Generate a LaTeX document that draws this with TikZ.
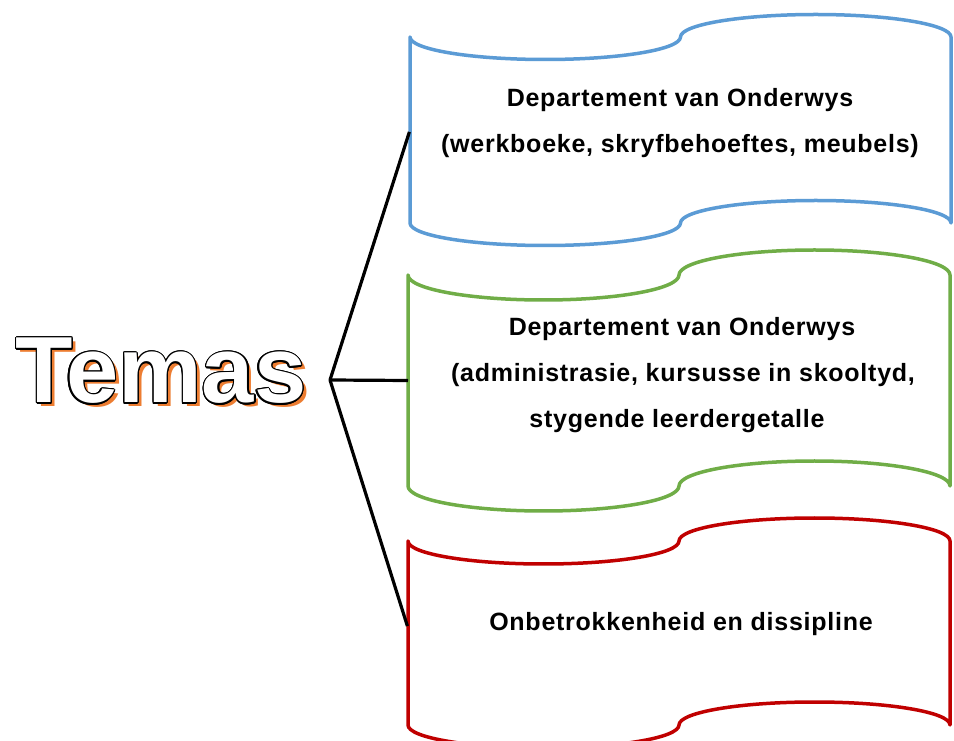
\documentclass[tikz,border=0pt]{standalone}
\usepackage{fontspec}
\setmainfont{Liberation Sans}
\newfontfamily\boxfont[LetterSpace=3]{Liberation Sans}
\definecolor{waveblue}{HTML}{5B9BD5}
\definecolor{wavegreen}{HTML}{70AD47}
\definecolor{wavered}{HTML}{C00000}
\definecolor{shadoworange}{HTML}{ED7D31}
\tikzset{
  boxarea/.style={rectangle, inner sep=0pt, outer sep=0pt},
  wavestroke/.style={line width=3.5pt, line join=round},
  linetext/.style={anchor=base, inner sep=0pt, font=\boxfont\bfseries\fontsize{25}{30}\selectfont},
  connector/.style={line width=3.2pt, draw=black},
  temasfont/.style={anchor=base, inner sep=0pt, font=\bfseries\fontsize{94}{110}\selectfont}
}
\newcommand\wavebox[7]{%
  \pgfmathsetmacro\wvq{#4/4}%
  \pgfmathsetmacro\wvk{0.5523*#4/4}%
  \pgfmathsetmacro\wvka{0.5523*#6}%
  \pgfmathsetmacro\wvxa{#2}%
  \pgfmathsetmacro\wvxb{#2+\wvq}%
  \pgfmathsetmacro\wvxc{#2+2*\wvq}%
  \pgfmathsetmacro\wvxd{#2+3*\wvq}%
  \pgfmathsetmacro\wvxe{#2+4*\wvq}%
  \pgfmathsetmacro\wvxbm{\wvxb-\wvk}%
  \pgfmathsetmacro\wvxbp{\wvxb+\wvk}%
  \pgfmathsetmacro\wvxdm{\wvxd-\wvk}%
  \pgfmathsetmacro\wvxdp{\wvxd+\wvk}%
  \pgfmathsetmacro\wvT{#3}%
  \pgfmathsetmacro\wvB{#3-#5}%
  \pgfmathsetmacro\wvTa{\wvT-#6}%
  \pgfmathsetmacro\wvTk{\wvT-\wvka}%
  \pgfmathsetmacro\wvTpa{\wvT+#6}%
  \pgfmathsetmacro\wvTpk{\wvT+\wvka}%
  \pgfmathsetmacro\wvBa{\wvB-#6}%
  \pgfmathsetmacro\wvBk{\wvB-\wvka}%
  \pgfmathsetmacro\wvBpa{\wvB+#6}%
  \pgfmathsetmacro\wvBpk{\wvB+\wvka}%
  \draw[wavestroke, draw=#7, fill=white]
    (\wvxa,\wvT) .. controls (\wvxa,\wvTk) and (\wvxbm,\wvTa) .. (\wvxb,\wvTa)
    .. controls (\wvxbp,\wvTa) and (\wvxc,\wvTk) .. (\wvxc,\wvT)
    .. controls (\wvxc,\wvTpk) and (\wvxdm,\wvTpa) .. (\wvxd,\wvTpa)
    .. controls (\wvxdp,\wvTpa) and (\wvxe,\wvTpk) .. (\wvxe,\wvT)
    -- (\wvxe,\wvB)
    .. controls (\wvxe,\wvBpk) and (\wvxdp,\wvBpa) .. (\wvxd,\wvBpa)
    .. controls (\wvxdm,\wvBpa) and (\wvxc,\wvBpk) .. (\wvxc,\wvB)
    .. controls (\wvxc,\wvBk) and (\wvxbp,\wvBa) .. (\wvxb,\wvBa)
    .. controls (\wvxbm,\wvBa) and (\wvxa,\wvBk) .. (\wvxa,\wvB)
    -- cycle;
  \node[boxarea, minimum width=#4pt, minimum height=#5pt, anchor=north west] (#1) at (#2,#3) {};
}
\begin{document}
\begin{tikzpicture}[x=1pt, y=1pt]
  \useasboundingbox (0,0) rectangle (954,740);
  \clip (0,0) rectangle (954,740);
  \fill[white] (0,0) rectangle (954,740);

  % wave boxes: name, left x, top-left y, width, left-edge height, amplitude, colour
  \wavebox{b1}{410}{703}{541}{186}{22.5}{waveblue}
  \wavebox{b2}{408}{465}{542}{211}{25}{wavegreen}
  \wavebox{b3}{408}{199}{542}{184}{23}{wavered}

  % texts
  \node[linetext] (b1l1) at (680,633) {Departement van Onderwys};
  \node[linetext] (b1l2) at (680,587) {(werkboeke, skryfbehoeftes, meubels)};
  \node[linetext] (b2l1) at (682,404) {Departement van Onderwys};
  \node[linetext] (b2l2) at (683,358) {(administrasie, kursusse in skooltyd,};
  \node[linetext] (b2l3) at (677,312) {stygende leerdergetalle};
  \node[linetext] (b3l1) at (681,110) {Onbetrokkenheid en dissipline};

  % Temas title: orange shadow, black outline, white fill
  \node[temasfont, text=shadoworange] (temasshadow) at (165,333) {Temas};
  \foreach \ang [count=\i] in {0,22.5,...,337.5}
    \node[temasfont, text=black] (temasoutline\i) at ({161+1.3*cos(\ang)},{337+1.3*sin(\ang)}) {Temas};
  \node[temasfont, text=white] (temas) at (161,337) {Temas};

  % connectors
  \coordinate (j) at (330,360);
  \draw[connector, shorten >=2pt] (j) -- (b1.west);
  \draw[connector] (j) -- (b2.west);
  \draw[connector, shorten >=2pt] (j) -- ([yshift=5pt]b3.west);
\end{tikzpicture}
\end{document}
